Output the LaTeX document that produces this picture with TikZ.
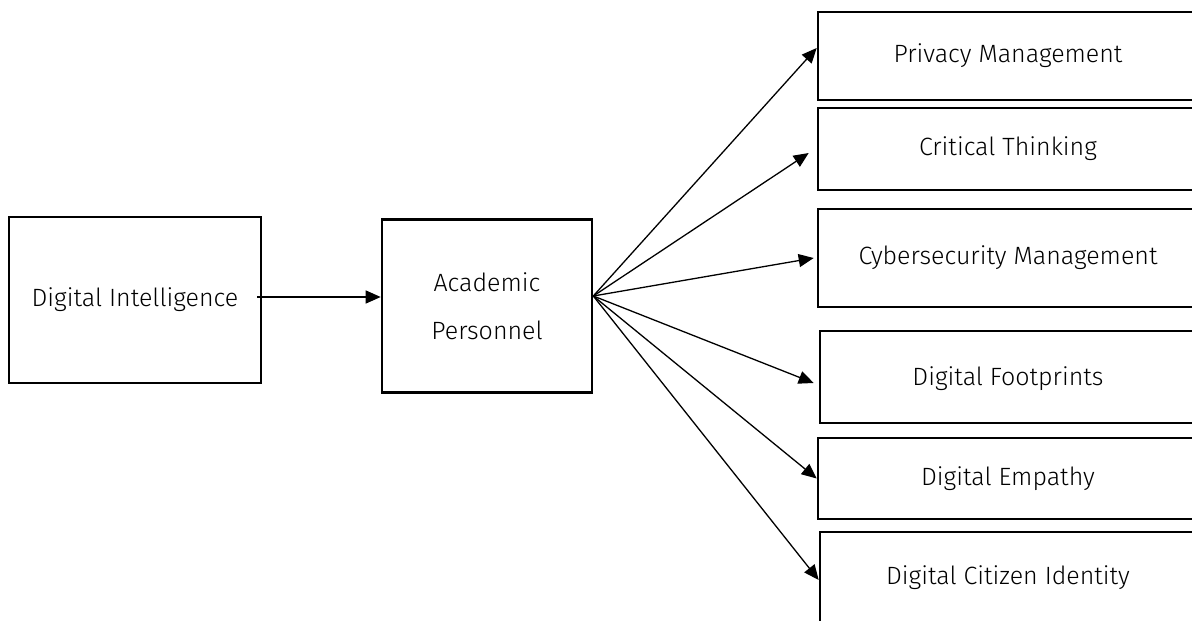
\documentclass[tikz,border=0pt]{standalone}
\usepackage{fontspec}
\newfontfamily\lf{Fira Sans Light}
\usetikzlibrary{arrows.meta,calc}
\begin{document}
\begin{tikzpicture}[x=1pt,y=-1pt,
  box/.style={draw,line width=2.6pt,rectangle,inner sep=0pt,align=center},
  lbl/.style={font=\lf\fontsize{25}{48}\selectfont,inner sep=0pt,align=center},
  arr/.style={line width=1.3pt,-{Triangle[length=15pt,width=13pt]}}]
\useasboundingbox (0,0) rectangle (1192,621);
\clip (0,0) rectangle (1192,621);
% left boxes
\node[box,minimum width=252pt,minimum height=166pt] (A) at (135,300) {};
\node[lbl] at (A.center) {Digital Intelligence};
\node[box,minimum width=210pt,minimum height=173pt] (B) at (487,306) {};
\node[lbl] at (487,306) {Academic\\Personnel};
% right boxes
\node[box,minimum width=380pt,minimum height=88pt] (P) at (1008,56) {};
\node[lbl] at (P.center) {Privacy Management};
\node[box,minimum width=380pt,minimum height=82pt] (C) at (1008,149) {};
\node[lbl] at (C.center) {Critical Thinking};
\node[box,minimum width=380pt,minimum height=98pt] (Y) at (1008,258) {};
\node[lbl] at (Y.center) {Cybersecurity Management};
\node[box,minimum width=378pt,minimum height=92pt] (F) at (1009,377) {};
\node[lbl] at (1008,379) {Digital Footprints};
\node[box,minimum width=380pt,minimum height=81pt] (E) at (1008,478.5) {};
\node[lbl] at (E.center) {Digital Empathy};
\node[box,minimum width=378pt,minimum height=108pt] (I) at (1009,586) {};
\node[lbl] at (1008,578) {Digital Citizen Identity};
% connectors
\coordinate (hub) at ([yshift=10pt]B.east);
\draw[arr] ([xshift=-5pt,yshift=3pt]A.east) -- ([yshift=9pt]B.west);
\draw[arr] (hub) -- ([yshift=8pt]P.west);
\draw[arr] (hub) -- ([xshift=-8pt,yshift=-4pt]C.west);
\draw[arr] (hub) -- ([xshift=-3pt]Y.west);
\draw[arr] (hub) -- ([xshift=-5pt,yshift=-6pt]F.west);
\draw[arr] (hub) -- (E.west);
\draw[arr] (hub) -- ([yshift=6pt]I.west);
\end{tikzpicture}
\end{document}
